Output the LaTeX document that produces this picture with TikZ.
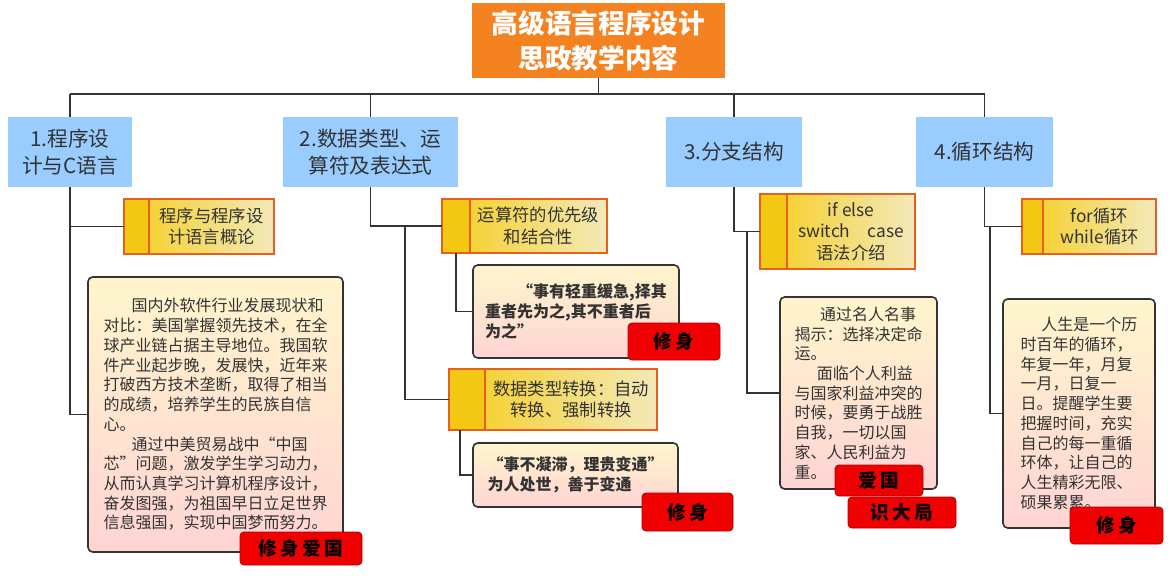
\documentclass[tikz,border=0pt]{standalone}
\usepackage{fontspec}
\setmainfont{Noto Sans CJK SC}
\newfontfamily\tagfont[LetterSpace=18]{Noto Sans CJK SC}
\usetikzlibrary{positioning}
\definecolor{titleorange}{RGB}{245,130,32}
\definecolor{catblue}{RGB}{153,204,255}
\definecolor{linegray}{RGB}{51,51,51}
\definecolor{stripgold}{RGB}{242,200,20}
\definecolor{subleft}{RGB}{245,210,55}
\definecolor{subright}{RGB}{243,233,185}
\definecolor{subedge}{RGB}{230,95,30}
\definecolor{notetop}{RGB}{255,246,204}
\definecolor{notebottom}{RGB}{255,212,212}
\definecolor{tagred}{RGB}{240,0,0}

\begin{document}
\begin{tikzpicture}[x=0.75pt,y=-0.75pt,
    wh/.style 2 args={minimum width=#1*0.75pt,minimum height=#2*0.75pt},
    titlebox/.style={fill=titleorange,text=white,font=\fontsize{20}{26}\selectfont\bfseries,align=center,inner sep=0pt},
    catbox/.style={fill=catblue,text=linegray,font=\fontsize{15.5}{20}\selectfont,align=center,inner sep=0pt},
    subbar/.style={draw=subedge,line width=1.2pt,fill=stripgold,outer sep=0pt,inner sep=0pt},
    subbox/.style={draw=subedge,line width=1.2pt,left color=subleft,right color=subright,outer sep=0pt,inner sep=0pt,
        text=linegray,font=\fontsize{13}{16}\selectfont,align=center},
    note/.style={draw=linegray,line width=1.2pt,rounded corners=3.5pt,top color=notetop,bottom color=notebottom,
        inner sep=0pt,text=linegray,font=\fontsize{12}{14.8}\selectfont,align=left},
    tag/.style={fill=tagred,draw=tagred!70!black,line width=0.6pt,rounded corners=3pt,inner sep=0pt,
        font=\tagfont\bfseries\fontsize{14}{16}\selectfont},
    link/.style={draw=linegray,line width=1.1pt}]
    \fill[white] (0,0) rectangle (1175,575);
    \useasboundingbox (0,0) rectangle (1175,575);

    \node[titlebox,wh={253}{75}] (title) at (598.5,40.5) {高级语言程序设计\\思政教学内容};

    \node[catbox,wh={124}{70}] (c1) at (70,152) {1.程序设\\计与C语言};
    \node[catbox,wh={175}{70}] (c2) at (370.5,152) {2.数据类型、运\\算符及表达式};
    \node[catbox,wh={136}{70}] (c3) at (734,152) {3.分支结构};
    \node[catbox,wh={137}{70}] (c4) at (984.5,152) {4.循环结构};

    \node[subbar,wh={25}{55}] (s1bar) at (136.5,226.5) {};
    \node[subbox,wh={125}{55},right=0pt of s1bar] (s1) {程序与程序设\\计语言概论};
    \node[subbar,wh={28}{54}] (s2abar) at (456,226) {};
    \node[subbox,wh={137}{54},right=0pt of s2abar] (s2a) {运算符的优先级\\和结合性};
    \node[subbar,wh={36}{61}] (s2bbar) at (467,399.5) {};
    \node[subbox,wh={172}{61},right=0pt of s2bbar] (s2b) {数据类型转换：自动\\转换、强制转换};
    \node[subbar,wh={27}{75}] (s3bar) at (773.5,231.5) {};
    \node[subbox,wh={128}{75},right=0pt of s3bar] (s3) {if else\\switch\quad case\\语法介绍};
    \node[subbar,wh={21}{55}] (s4bar) at (1032.5,226.5) {};
    \node[subbox,wh={113}{55},right=0pt of s4bar] (s4) {for循环\\while循环};

    \node[note,wh={255}{275}] (t1) at (215.5,414.5) {\hspace*{1.75em}国内外软件行业发展现状和\\对比：美国掌握领先技术，在全\\球产业链占据主导地位。我国软\\件产业起步晚，发展快，近年来\\打破西方技术垄断，取得了相当\\的成绩，培养学生的民族自信\\心。\\\hspace*{1.75em}通过中美贸易战中“中国\\芯”问题，激发学生学习动力，\\从而认真学习计算机程序设计，\\奋发图强，为祖国早日立足世界\\信息强国，实现中国梦而努力。};
    \node[note,wh={206}{93},font=\fontsize{12}{15}\selectfont\bfseries] (t2a) at (576,311.5) {\hspace*{2em}“事有轻重缓急,择其\\重者先为之,其不重者后\\为之”};
    \node[note,wh={205}{64},font=\fontsize{12}{15}\selectfont\bfseries] (t2b) at (575.5,475) {“事不凝滞，理贵变通”\\为人处世，善于变通};
    \node[note,wh={157}{192}] (t3) at (858.5,393) {\hspace*{1.6em}通过名人名事\\揭示：选择决定命\\运。\\\hspace*{1.4em}面临个人利益\\与国家利益冲突的\\时候，要勇于战胜\\自我，一切以国\\家、人民利益为\\重。};
    \node[note,wh={152}{229}] (t4) at (1079,413.5) {\hspace*{1.3em}人生是一个历\\时百年的循环，\\年复一年，月复\\一月，日复一\\日。提醒学生要\\把握时间，充实\\自己的每一重循\\环体，让自己的\\人生精彩无限、\\硕果累累。};

    \node[tag,wh={122}{33}] (g1) at (301,548.5) {修身爱国};
    \node[tag,wh={92}{37}] (g2a) at (674,341.5) {修身};
    \node[tag,wh={91}{38}] (g2b) at (687.5,512) {修身};
    \node[tag,wh={88}{31}] (g3a) at (879,480.5) {爱国};
    \node[tag,wh={108}{31}] (g3b) at (902,512.5) {识大局};
    \node[tag,wh={93}{37}] (g4) at (1116.5,525.5) {修身};

    \coordinate (bus) at (598.5,94);
    \draw[link] (title.south) -- (title.south |- bus);
    \draw[link,line width=0.8pt] (c1.north |- bus) -- (c4.north |- bus);
    \draw[link] (c1.north) -- (c1.north |- bus);
    \draw[link] (c2.north) -- (c2.north |- bus);
    \draw[link] (c3.north) -- (c3.north |- bus);
    \draw[link] (c4.north) -- (c4.north |- bus);

    \draw[link] (c1.south) |- (s1bar.west);
    \draw[link] (c1.south) |- (t1.west);
    \draw[link] (c2.south) |- (s2abar.west);
    \coordinate (j2) at (405,226);
    \draw[link] (j2) |- (s2bbar.west);
    \draw[link] (s2abar.south) |- (t2a.west);
    \draw[link] ([xshift=-5.25pt]s2bbar.south) |- (t2b.west);
    \draw[link] (c3.south) |- (s3bar.west);
    \coordinate (j3) at (747,231.5);
    \draw[link] (j3) |- (t3.west);
    \draw[link] (c4.south) |- (s4bar.west);
    \coordinate (j4) at (990,226.5);
    \draw[link] (j4) |- (t4.west);
\end{tikzpicture}
\end{document}
